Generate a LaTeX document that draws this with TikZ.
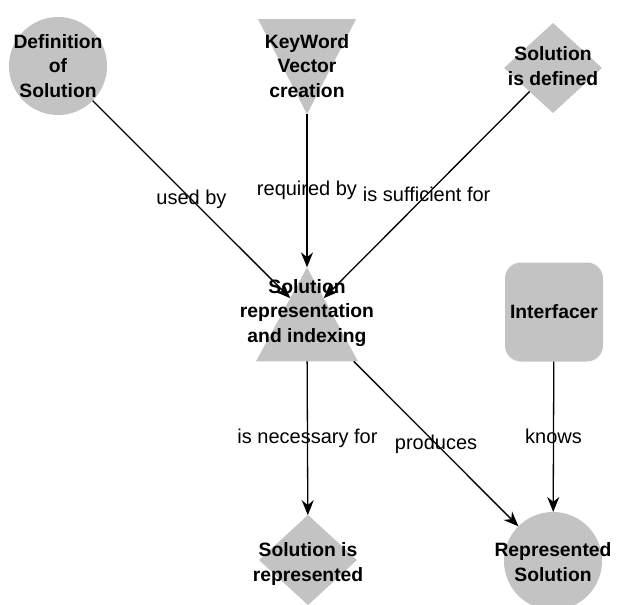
\documentclass[tikz,border=0pt]{standalone}
\usepackage{fontspec}
\setmainfont{Liberation Sans}
\usetikzlibrary{arrows.meta,shapes.geometric}
\definecolor{shapegray}{RGB}{195,195,195}

\begin{document}
\begin{tikzpicture}[x=1pt,y=-1pt,>={Stealth[length=15pt,width=12pt]},
  shp/.style={fill=shapegray,draw=none,inner sep=0pt,outer sep=0pt},
  circ/.style={shp,circle,minimum size=98pt},
  dmd/.style={shp,diamond,minimum width=98pt,minimum height=90pt},
  tridown/.style={shp,isosceles triangle,isosceles triangle stretches,shape border rotate=-90,minimum width=98pt,minimum height=95pt},
  triup/.style={shp,isosceles triangle,isosceles triangle stretches,shape border rotate=90,minimum width=102pt,minimum height=94pt},
  box/.style={shp,rectangle,rounded corners=16pt,minimum width=98pt,minimum height=99pt},
  txt/.style={align=center,inner sep=0pt,font=\fontsize{19.3}{24.5}\selectfont\bfseries},
  lbl/.style={inner sep=0pt,font=\fontsize{20}{24}\selectfont},
  edge/.style={->,line width=1.3pt}]
\useasboundingbox (0,0) rectangle (617,604);
% shapes (triangles sit on their centroid)
\node[circ] (defsol) at (58,66) {};
\node[tridown] (kwvec) at (307,49) {};
\node[dmd] (soldef) at (553,68) {};
\node[triup] (solrep) at (307,331) {};
\node[box] (iface) at (554,312) {};
\node[dmd] (solisrep) at (308,560) {};
\node[circ] (repsol) at (553,561) {};
% texts
\node[txt] (defsol-t) at (defsol) {Definition\\of\\Solution};
\node[txt] (kwvec-t) at (307,66) {KeyWord\\Vector\\creation};
\node[txt] (soldef-t) at ([yshift=2pt]soldef) {Solution\\is defined};
\node[txt] (solrep-t) at (307,313) {Solution\\representation\\and indexing};
\node[txt] (iface-t) at (iface) {Interfacer};
\node[txt] (solisrep-t) at ([yshift=-4pt]solisrep) {Solution is\\represented};
\node[txt] (repsol-t) at ([yshift=-1pt]repsol) {Represented\\Solution};
% connectors
\draw[edge] (defsol) -- node[lbl] {used by} (solrep.117);
\draw[edge] (kwvec) -- node[lbl] {required by} (solrep);
\draw[edge] (soldef) -- node[lbl] {is sufficient for} (solrep.63);
\draw[edge] (solrep) -- node[lbl] {is necessary for} (solisrep);
\draw[edge] (solrep.-33) -- node[lbl] {produces} (repsol);
\draw[edge] (iface) -- node[lbl] {knows} (repsol);
\end{tikzpicture}
\end{document}
